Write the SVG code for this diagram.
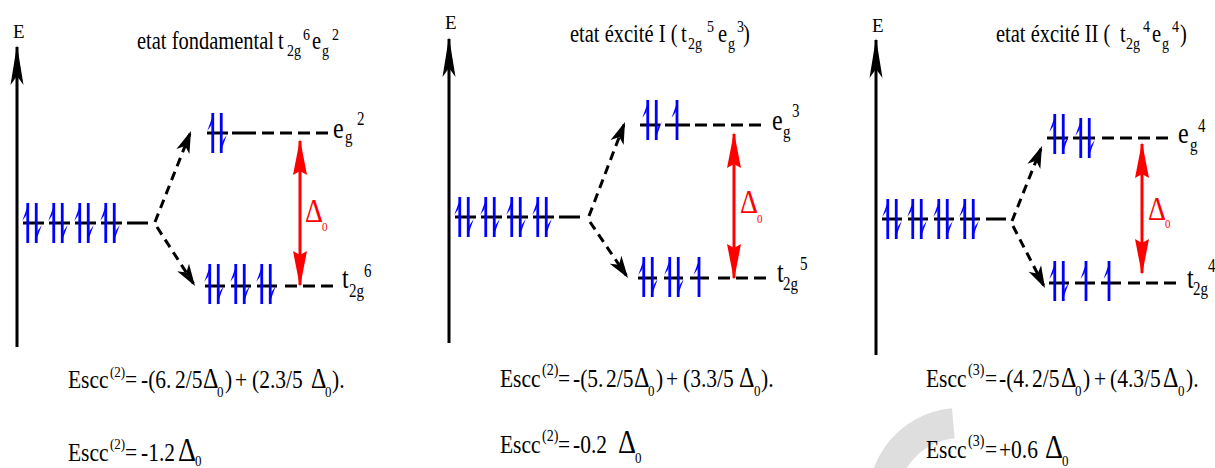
<svg xmlns="http://www.w3.org/2000/svg" width="1215" height="468" viewBox="0 0 1215 468">
<style>
text{font-family:"Liberation Serif","Times New Roman",serif;fill:#000}
.lvl{stroke:#000;stroke-width:3;fill:none}
.dsh{stroke:#000;stroke-width:3;stroke-dasharray:12 6;fill:none}
.conn{stroke:#000;stroke-width:3;stroke-dasharray:9 6;fill:none;marker-end:url(#ah)}
.axis{stroke:#000;stroke-width:3;fill:none;marker-end:url(#axh)}
.gap{stroke:#f00;stroke-width:3;fill:none;marker-start:url(#rh);marker-end:url(#rh)}
.red{fill:#f00}
.ti{font-size:20.5px}
.s14{font-size:14px}
.lb{font-size:24px}
.s15{font-size:15px}
.fm{font-size:21.5px}
.s13{font-size:13px}
.dl{font-size:24px}
.dL{font-size:28px}
</style>
<defs>
<marker id="ah" markerUnits="userSpaceOnUse" markerWidth="30" markerHeight="30" refX="0" refY="0" orient="auto" overflow="visible"><path d="M3,0 L-19,-7 L-13,0 L-19,7 Z" fill="#000"/></marker>
<marker id="axh" markerUnits="userSpaceOnUse" markerWidth="50" markerHeight="20" refX="0" refY="0" orient="auto" overflow="visible"><path d="M2,0 L-38,-6.5 L-29,0 L-38,6.5 Z" fill="#000"/></marker>
<marker id="rh" markerUnits="userSpaceOnUse" markerWidth="50" markerHeight="20" refX="0" refY="0" orient="auto-start-reverse" overflow="visible"><path d="M2,0 L-34,-7 L-30,0 L-34,7 Z" fill="#f00"/></marker>
<g id="eu" fill="#00f"><rect x="-1.4" y="-20" width="2.8" height="40"/><path d="M1.4,-21 L-5.5,-2 L-1.4,-8 Z"/></g>
<g id="ed" fill="#00f"><rect x="-1.4" y="-20" width="2.8" height="40"/><path d="M-1.4,21 L5.5,2 L1.4,8 Z"/></g>
<g id="pair"><use href="#eu" x="-4.25"/><use href="#ed" x="4.25"/></g>
</defs>

<path id="watermark" d="M885.6,519.9 A77,77 0 0 1 953.3,423.3" stroke="#dedede" stroke-width="30" fill="none"/>

<!-- ===== Panel 1 ===== -->
<g id="p1-axis">
<path class="axis" d="M17,347 V47"/>
<text x="13" y="38" font-size="19">E</text>
</g>
<g id="p1-title">
<text class="ti" transform="matrix(1 0 0 1.2 0 -9.8)"><tspan x="137" y="49">etat fondamental</tspan><tspan x="278" y="49">t</tspan><tspan class="s14" x="287" y="54.8">2g</tspan><tspan class="s14" x="303" y="41.5">6</tspan><tspan x="312" y="49">e</tspan><tspan class="s14" x="322" y="54.8">g</tspan><tspan class="s14" x="332" y="41.5">2</tspan></text>
</g>
<g id="p1-level-free">
<path class="lvl" d="M23,223 H148" stroke-dasharray="21 5"/>
<use href="#pair" x="32" y="223"/><use href="#pair" x="58" y="223"/><use href="#pair" x="84" y="223"/><use href="#pair" x="110" y="223"/>
</g>
<g id="p1-level-eg">
<path class="lvl" d="M207,133 H228 M232,133 H256"/>
<path class="dsh" d="M262,133 H330"/>
<use href="#pair" x="217" y="133"/>
<text class="lb" transform="matrix(1 0 0 1.2 0 -27.6)"><tspan x="333" y="138">e</tspan><tspan class="s15" x="345" y="142.2">g</tspan><tspan class="s15" x="357" y="127.2">2</tspan></text>
</g>
<g id="p1-level-t2g">
<path class="lvl" d="M205,286 H277" stroke-dasharray="20 6"/>
<path class="dsh" d="M285,286 H335"/>
<use href="#pair" x="214" y="284"/><use href="#pair" x="240" y="284"/><use href="#pair" x="266" y="284"/>
<text class="lb" transform="matrix(1 0 0 1.2 0 -57.6)"><tspan x="342" y="288">t</tspan><tspan class="s15" x="349" y="295.5">2g</tspan><tspan class="s15" x="364" y="278.8">6</tspan></text>
</g>
<g id="p1-delta">
<path class="gap" d="M300,141 V285"/>
<text class="red dL" transform="matrix(1 0 0 1.2 0 -44.4)"><tspan x="305" y="222">Δ</tspan><tspan x="322" y="229.5" font-size="11">0</tspan></text>
</g>
<g id="p1-formulas">
<text class="fm" transform="matrix(1 0 0 1.2 0 -77.6)"><tspan x="68" y="388">Escc</tspan><tspan class="s13" x="110" y="378.5">(2)</tspan><tspan x="125" y="388">=</tspan><tspan x="141">-(6.</tspan><tspan x="175">2/5</tspan><tspan class="dl" x="203">Δ</tspan><tspan class="s13" x="217" y="395.5">0</tspan><tspan x="225" y="388">)</tspan><tspan x="235">+</tspan><tspan x="252">(2.3/5</tspan><tspan class="dl" x="311">Δ</tspan><tspan class="s13" x="325" y="395.5">0</tspan><tspan x="332" y="388">).</tspan></text>
<text class="fm" transform="matrix(1 0 0 1.2 0 -92.2)"><tspan x="68" y="461">Escc</tspan><tspan class="s13" x="110" y="451">(2)</tspan><tspan x="125" y="461">=</tspan><tspan x="141">-1.2</tspan><tspan class="dL" x="178" font-size="27">Δ</tspan><tspan class="s13" x="195" y="465" font-size="11">0</tspan></text>
</g>

<!-- ===== Panel 2 ===== -->
<g id="p2-axis">
<path class="axis" d="M449,343 V39"/>
<text x="445" y="29" font-size="19">E</text>
</g>
<g id="p2-title">
<text class="ti" transform="matrix(1 0 0 1.2 0 -8.4)"><tspan x="570" y="42">etat éxcité I (</tspan><tspan x="681" y="42">t</tspan><tspan class="s14" x="688" y="47.8">2g</tspan><tspan class="s14" x="707" y="33.7">5</tspan><tspan x="718" y="42">e</tspan><tspan class="s14" x="728" y="47.8">g</tspan><tspan class="s14" x="737" y="33.7">3</tspan><tspan x="743" y="42">)</tspan></text>
</g>
<g id="p2-level-free">
<path class="lvl" d="M455,217 H580" stroke-dasharray="21 5"/>
<use href="#pair" x="464" y="217"/><use href="#pair" x="490" y="217"/><use href="#pair" x="516" y="217"/><use href="#pair" x="542" y="217"/>
</g>
<g id="p2-level-eg">
<path class="lvl" d="M640,125 H660 M665,125 H690"/>
<path class="dsh" d="M695,125 H767"/>
<use href="#pair" x="652" y="120"/><use href="#eu" x="677" y="120"/>
<text class="lb" transform="matrix(1 0 0 1.2 0 -26)"><tspan x="772" y="130">e</tspan><tspan class="s15" x="783" y="136.7">g</tspan><tspan class="s15" x="792" y="119.2">3</tspan></text>
</g>
<g id="p2-level-t2g">
<path class="lvl" d="M638,278 H710" stroke-dasharray="19 7"/>
<path class="dsh" d="M718,278 H768"/>
<use href="#pair" x="648" y="277"/><use href="#pair" x="674" y="277"/><use href="#eu" x="699" y="277"/>
<text class="lb" transform="matrix(1 0 0 1.2 0 -56.4)"><tspan x="777" y="282">t</tspan><tspan class="s15" x="783" y="288.7">2g</tspan><tspan class="s15" x="800" y="272">5</tspan></text>
</g>
<g id="p2-delta">
<path class="gap" d="M734,134 V278"/>
<text class="red dL" transform="matrix(1 0 0 1.2 0 -42.6)"><tspan x="740" y="213">Δ</tspan><tspan x="757" y="221.3" font-size="11">0</tspan></text>
</g>
<g id="p2-formulas">
<text class="fm" transform="matrix(1 0 0 1.2 0 -77.4)"><tspan x="500" y="387">Escc</tspan><tspan class="s14" x="542" y="377">(2)</tspan><tspan x="558" y="387">=</tspan><tspan x="573">-(5.</tspan><tspan x="606">2/5</tspan><tspan class="dl" x="634">Δ</tspan><tspan class="s13" x="648" y="394.5">0</tspan><tspan x="656" y="387">)</tspan><tspan x="666">+</tspan><tspan x="683">(3.3/5</tspan><tspan class="dl" x="739">Δ</tspan><tspan class="s13" x="754" y="394.5">0</tspan><tspan x="761" y="387">).</tspan></text>
<text class="fm" transform="matrix(1 0 0 1.2 0 -90.6)"><tspan x="500" y="453">Escc</tspan><tspan class="s14" x="542" y="443">(2)</tspan><tspan x="558" y="453">=</tspan><tspan x="573">-0.2</tspan><tspan class="dL" x="618">Δ</tspan><tspan class="s13" x="635" y="461">0</tspan></text>
</g>

<!-- ===== Panel 3 ===== -->
<g id="p3-axis">
<path class="axis" d="M876,355 V40"/>
<text x="872" y="32" font-size="19">E</text>
</g>
<g id="p3-title">
<text class="ti" transform="matrix(1 0 0 1.2 0 -8.4)"><tspan x="996" y="42">etat éxcité II (</tspan><tspan x="1120" y="42">t</tspan><tspan class="s14" x="1126" y="47.8">2g</tspan><tspan class="s14" x="1143" y="33.7">4</tspan><tspan x="1152" y="42">e</tspan><tspan class="s14" x="1162" y="47.8">g</tspan><tspan class="s14" x="1172" y="33.7">4</tspan><tspan x="1180" y="42">)</tspan></text>
</g>
<g id="p3-level-free">
<path class="lvl" d="M882,219 H1006" stroke-dasharray="20 6"/>
<use href="#pair" x="892" y="219"/><use href="#pair" x="917" y="219"/><use href="#pair" x="943" y="219"/><use href="#pair" x="969" y="219"/>
</g>
<g id="p3-level-eg">
<path class="lvl" d="M1047,138 H1068 M1073,138 H1095"/>
<path class="dsh" d="M1102,138 H1173"/>
<use href="#pair" x="1059" y="134"/><use href="#pair" x="1085" y="138"/>
<text class="lb" transform="matrix(1 0 0 1.2 0 -28.6)"><tspan x="1178" y="143">e</tspan><tspan class="s15" x="1190" y="149.7">g</tspan><tspan class="s15" x="1198" y="133.8">4</tspan></text>
</g>
<g id="p3-level-t2g">
<path class="lvl" d="M1049,283 H1122" stroke-dasharray="20 6"/>
<path class="dsh" d="M1128,283 H1180"/>
<use href="#pair" x="1059" y="281"/><use href="#eu" x="1086" y="281"/><use href="#eu" x="1109" y="281"/>
<text class="lb" transform="matrix(1 0 0 1.2 0 -57.6)"><tspan x="1187" y="288">t</tspan><tspan class="s15" x="1193" y="293.8">2g</tspan><tspan class="s15" x="1208" y="274.7">4</tspan></text>
</g>
<g id="p3-delta">
<path class="gap" d="M1142,144 V273"/>
<text class="red dL" transform="matrix(1 0 0 1.2 0 -44)"><tspan x="1148" y="220">Δ</tspan><tspan x="1165" y="226.7" font-size="11">0</tspan></text>
</g>
<g id="p3-formulas">
<text class="fm" transform="matrix(1 0 0 1.2 0 -77.4)"><tspan x="926" y="387">Escc</tspan><tspan class="s14" x="968" y="377">(3)</tspan><tspan x="985" y="387">=</tspan><tspan x="999">-(4.</tspan><tspan x="1032">2/5</tspan><tspan class="dl" x="1061">Δ</tspan><tspan class="s13" x="1075" y="394.5">0</tspan><tspan x="1083" y="387">)</tspan><tspan x="1094">+</tspan><tspan x="1110">(4.3/5</tspan><tspan class="dl" x="1163">Δ</tspan><tspan class="s13" x="1178" y="394.5">0</tspan><tspan x="1186" y="387">).</tspan></text>
<text class="fm" transform="matrix(1 0 0 1.2 0 -91.6)"><tspan x="926" y="458">Escc</tspan><tspan class="s14" x="968" y="448">(3)</tspan><tspan x="985" y="458">=</tspan><tspan x="999">+0.6</tspan><tspan class="dL" x="1045">Δ</tspan><tspan class="s13" x="1062" y="465">0</tspan></text>
</g>

<!-- ===== Connectors ===== -->
<g id="connectors">
<path class="conn" d="M155,222 L189.9,133.8"/>
<path class="conn" d="M157,227 L193.4,283.5"/>
<path class="conn" d="M589,216 L623.9,124.8"/>
<path class="conn" d="M590,222 L626.3,275.5"/>
<path class="conn" d="M1012,221 L1040.9,148.8"/>
<path class="conn" d="M1013,226 L1043.6,285.3"/>
</g>
</svg>
